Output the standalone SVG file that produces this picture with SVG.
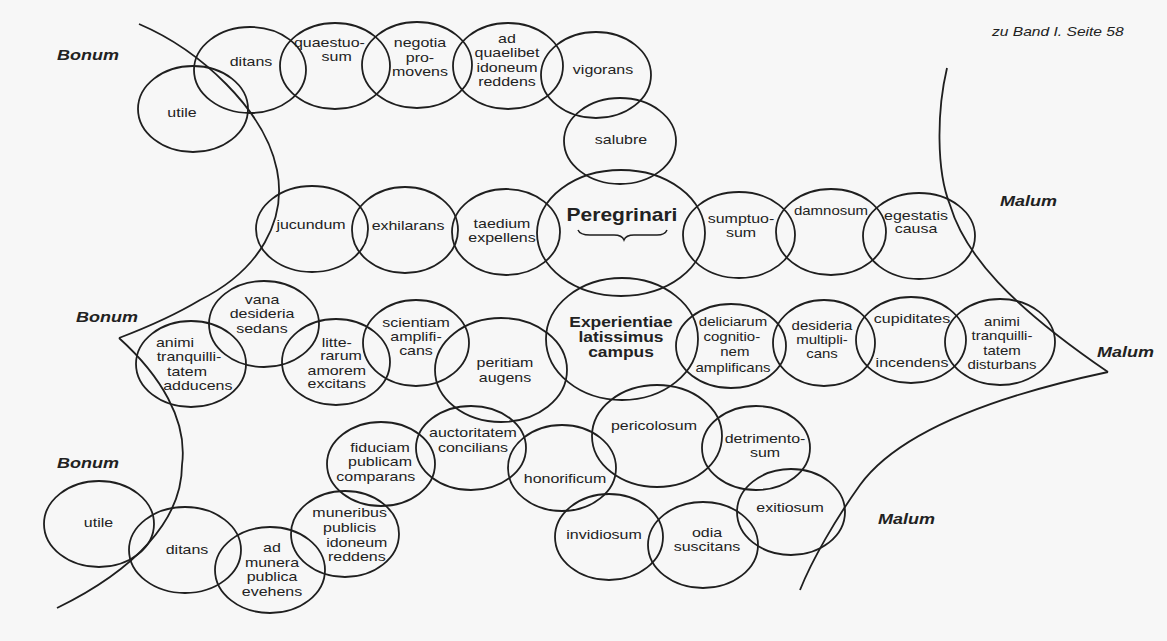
<svg xmlns="http://www.w3.org/2000/svg" width="1167" height="641" viewBox="0 0 1167 641">
<style>
.c{fill:none;stroke:#1f1f1f;stroke-width:1.8}
.ln{fill:none;stroke:#1f1f1f;stroke-width:1.8}
.t{font-family:"Liberation Sans",Arial,sans-serif;font-size:13.3px;fill:#222;text-anchor:middle}
.s{font-size:12.5px}
.b{font-weight:bold}
.lab{font-family:"Liberation Sans",Arial,sans-serif;font-weight:bold;font-style:italic;font-size:15px;fill:#222}
.hdr{font-family:"Liberation Sans",Arial,sans-serif;font-style:italic;font-size:13px;fill:#222}
</style>
<rect x="0" y="0" width="1167" height="641" fill="#f7f7f7"/>

<g id="boundaries">
<path class="ln" d="M139,24 C200,50 265,110 277,170 C287,220 260,270 200,300 C170,318 140,330 119,338"/>
<path class="ln" d="M119,338 C160,375 188,420 182,465 C182,520 135,570 57,608"/>
<path class="ln" d="M947,68 C937,110 936,170 950,205 C965,255 1010,305 1108,372"/>
<path class="ln" d="M1108,372 C1000,395 900,430 860,485 C835,520 812,560 800,590"/>
</g>

<g id="labels">
<text class="hdr" transform="translate(992,36) scale(1.2,1)">zu Band I. Seite 58</text>
<text class="lab" transform="translate(57,60) scale(1.2,1)">Bonum</text>
<text class="lab" transform="translate(76,322) scale(1.2,1)">Bonum</text>
<text class="lab" transform="translate(57,468) scale(1.2,1)">Bonum</text>
<text class="lab" transform="translate(1000,206) scale(1.2,1)">Malum</text>
<text class="lab" transform="translate(1097,357) scale(1.2,1)">Malum</text>
<text class="lab" transform="translate(878,524) scale(1.2,1)">Malum</text>
</g>

<g id="n-utile-top"><ellipse class="c" cx="193" cy="109" rx="55" ry="43"/>
<text class="t" transform="translate(182,117) scale(1.2,1)">utile</text></g>
<g id="n-ditans-top"><ellipse class="c" cx="250" cy="70" rx="56" ry="43"/>
<text class="t" transform="translate(251,66) scale(1.2,1)">ditans</text></g>
<g id="n-quaestuosum"><ellipse class="c" cx="335" cy="66" rx="55" ry="43"/>
<text class="t" transform="translate(333,47) scale(1.2,1)"><tspan x="-3" dy="0">quaestuo-</tspan><tspan x="3" dy="14">sum</tspan></text></g>
<g id="n-negotia"><ellipse class="c" cx="417" cy="65" rx="55" ry="43"/>
<text class="t" transform="translate(420,47) scale(1.2,1)"><tspan x="0" dy="0">negotia</tspan><tspan x="0" dy="15">pro-</tspan><tspan x="0" dy="14">movens</tspan></text></g>
<g id="n-quaelibet"><ellipse class="c" cx="508" cy="66" rx="55" ry="43"/>
<text class="t" transform="translate(507,43) scale(1.2,1)"><tspan x="0" dy="0">ad</tspan><tspan x="0" dy="14.5">quaelibet</tspan><tspan x="0" dy="14.5">idoneum</tspan><tspan x="0" dy="14.5">reddens</tspan></text></g>
<g id="n-vigorans"><ellipse class="c" cx="596" cy="75" rx="55" ry="43"/>
<text class="t" transform="translate(603,74) scale(1.2,1)">vigorans</text></g>
<g id="n-salubre"><ellipse class="c" cx="620" cy="141" rx="56" ry="43"/>
<text class="t" transform="translate(621,144) scale(1.2,1)">salubre</text></g>

<g id="n-jucundum"><ellipse class="c" cx="312" cy="229" rx="56" ry="43"/>
<text class="t" transform="translate(311,229) scale(1.2,1)">jucundum</text></g>
<g id="n-exhilarans"><ellipse class="c" cx="405" cy="230" rx="53" ry="43"/>
<text class="t" transform="translate(408,230) scale(1.2,1)">exhilarans</text></g>
<g id="n-taedium"><ellipse class="c" cx="506" cy="232" rx="54" ry="43"/>
<text class="t" transform="translate(502,228) scale(1.2,1)"><tspan x="0" dy="0">taedium</tspan><tspan x="0" dy="14">expellens</tspan></text></g>
<g id="n-peregrinari"><ellipse class="c" cx="621" cy="233" rx="84" ry="63"/>
<text class="t b" style="font-size:17.5px" transform="translate(622,221) scale(1.2,1)">Peregrinari</text>
<path class="ln" style="stroke-width:1.5" d="M578,230 Q580,235 590,235 L614,235 Q622,235 624,240 Q626,235 634,235 L657,235 Q665,235 667,230"/></g>
<g id="n-sumptuosum"><ellipse class="c" cx="739" cy="235" rx="56" ry="43"/>
<text class="t" transform="translate(741,223) scale(1.2,1)"><tspan x="0" dy="0">sumptuo-</tspan><tspan x="0" dy="14">sum</tspan></text></g>
<g id="n-damnosum"><ellipse class="c" cx="831" cy="232" rx="55" ry="43"/>
<text class="t s" transform="translate(831,215) scale(1.2,1)">damnosum</text></g>
<g id="n-egestatis"><ellipse class="c" cx="919" cy="236" rx="56" ry="43"/>
<text class="t" transform="translate(916,220) scale(1.2,1)"><tspan x="0" dy="0">egestatis</tspan><tspan x="0" dy="13.5">causa</tspan></text></g>

<g id="n-vana"><ellipse class="c" cx="264" cy="324" rx="55" ry="43"/>
<text class="t" transform="translate(262,304) scale(1.2,1)"><tspan x="0" dy="0">vana</tspan><tspan x="0" dy="14.5">desideria</tspan><tspan x="0" dy="14.5">sedans</tspan></text></g>
<g id="n-animi-adducens"><ellipse class="c" cx="191" cy="364" rx="55" ry="43"/>
<text class="t" transform="translate(187,347) scale(1.2,1)"><tspan x="-10" dy="0">animi</tspan><tspan x="1.7" dy="14">tranquilli-</tspan><tspan x="0" dy="15">tatem</tspan><tspan x="9" dy="14">adducens</tspan></text></g>
<g id="n-litterarum"><ellipse class="c" cx="336" cy="362" rx="54" ry="43"/>
<text class="t" transform="translate(338,347) scale(1.2,1)"><tspan x="-1" dy="0">litte-</tspan><tspan x="2.5" dy="13.5">rarum</tspan><tspan x="-1" dy="14.5">amorem</tspan><tspan x="-1" dy="13.5">excitans</tspan></text></g>
<g id="n-scientiam"><ellipse class="c" cx="416" cy="343" rx="53" ry="43"/>
<text class="t" transform="translate(416,327) scale(1.2,1)"><tspan x="0" dy="0">scientiam</tspan><tspan x="0" dy="14.5">amplifi-</tspan><tspan x="0" dy="14">cans</tspan></text></g>
<g id="n-peritiam"><ellipse class="c" cx="501" cy="370" rx="66" ry="52"/>
<text class="t" transform="translate(505,367) scale(1.2,1)"><tspan x="0" dy="0">peritiam</tspan><tspan x="0" dy="15">augens</tspan></text></g>
<g id="n-experientiae"><ellipse class="c" cx="622" cy="339" rx="76" ry="61"/>
<text class="t b" style="font-size:14.5px" transform="translate(621,327) scale(1.2,1)"><tspan x="0" dy="0">Experientiae</tspan><tspan x="0" dy="15.5">latissimus</tspan><tspan x="0" dy="15">campus</tspan></text></g>
<g id="n-deliciarum"><ellipse class="c" cx="731" cy="346" rx="55" ry="42"/>
<text class="t s" transform="translate(733,326) scale(1.2,1)"><tspan x="0" dy="0">deliciarum</tspan><tspan x="-1" dy="15">cognitio-</tspan><tspan x="1.5" dy="15">nem</tspan><tspan x="0" dy="16">amplificans</tspan></text></g>
<g id="n-desideria"><ellipse class="c" cx="824" cy="343" rx="51" ry="43"/>
<text class="t s" transform="translate(822,330) scale(1.2,1)"><tspan x="0" dy="0">desideria</tspan><tspan x="0" dy="14">multipli-</tspan><tspan x="0" dy="14">cans</tspan></text></g>
<g id="n-cupiditates"><ellipse class="c" cx="911" cy="340" rx="55" ry="43"/>
<text class="t" transform="translate(912,323) scale(1.2,1)"><tspan x="0" dy="0">cupiditates</tspan><tspan x="0" dy="44">incendens</tspan></text></g>
<g id="n-animi-disturbans"><ellipse class="c" cx="1000" cy="342" rx="55" ry="43"/>
<text class="t s" transform="translate(1002,326) scale(1.2,1)"><tspan x="0" dy="0">animi</tspan><tspan x="0" dy="14">tranquilli-</tspan><tspan x="0" dy="15">tatem</tspan><tspan x="0" dy="14">disturbans</tspan></text></g>

<g id="n-fiduciam"><ellipse class="c" cx="381" cy="464" rx="54" ry="42"/>
<text class="t" transform="translate(380,452) scale(1.2,1)"><tspan x="0" dy="0">fiduciam</tspan><tspan x="0" dy="14">publicam</tspan><tspan x="-3.5" dy="15">comparans</tspan></text></g>
<g id="n-auctoritatem"><ellipse class="c" cx="471" cy="448" rx="55" ry="42"/>
<text class="t" transform="translate(473,437) scale(1.2,1)"><tspan x="0" dy="0">auctoritatem</tspan><tspan x="0" dy="15">concilians</tspan></text></g>
<g id="n-honorificum"><ellipse class="c" cx="562" cy="468" rx="54" ry="43"/>
<text class="t" transform="translate(565,483) scale(1.2,1)">honorificum</text></g>
<g id="n-pericolosum"><ellipse class="c" cx="657" cy="436" rx="65" ry="51"/>
<text class="t" transform="translate(654,430) scale(1.2,1)">pericolosum</text></g>
<g id="n-detrimentosum"><ellipse class="c" cx="756" cy="448" rx="54" ry="42"/>
<text class="t" transform="translate(765,443) scale(1.2,1)"><tspan x="0" dy="0">detrimento-</tspan><tspan x="0" dy="14">sum</tspan></text></g>
<g id="n-exitiosum"><ellipse class="c" cx="791" cy="512" rx="54" ry="43"/>
<text class="t" transform="translate(790,512) scale(1.2,1)">exitiosum</text></g>
<g id="n-invidiosum"><ellipse class="c" cx="609" cy="537" rx="54" ry="43"/>
<text class="t" transform="translate(604,539) scale(1.2,1)">invidiosum</text></g>
<g id="n-odia"><ellipse class="c" cx="703" cy="545" rx="55" ry="43"/>
<text class="t" transform="translate(707,537) scale(1.2,1)"><tspan x="0" dy="0">odia</tspan><tspan x="0" dy="14">suscitans</tspan></text></g>

<g id="n-utile-bottom"><ellipse class="c" cx="99" cy="524" rx="55" ry="43"/>
<text class="t" transform="translate(98.5,527) scale(1.2,1)">utile</text></g>
<g id="n-ditans-bottom"><ellipse class="c" cx="185" cy="550" rx="56" ry="43"/>
<text class="t" transform="translate(187,554) scale(1.2,1)">ditans</text></g>
<g id="n-munera"><ellipse class="c" cx="270" cy="570" rx="55" ry="43"/>
<text class="t" transform="translate(272,552) scale(1.2,1)"><tspan x="0" dy="0">ad</tspan><tspan x="0" dy="15">munera</tspan><tspan x="0" dy="14">publica</tspan><tspan x="0" dy="15">evehens</tspan></text></g>
<g id="n-muneribus"><ellipse class="c" cx="345" cy="534" rx="54" ry="43"/>
<text class="t" transform="translate(352,517) scale(1.2,1)"><tspan x="-2" dy="0">muneribus</tspan><tspan x="-2" dy="15">publicis</tspan><tspan x="4" dy="15">idoneum</tspan><tspan x="4" dy="14">reddens</tspan></text></g>
</svg>
